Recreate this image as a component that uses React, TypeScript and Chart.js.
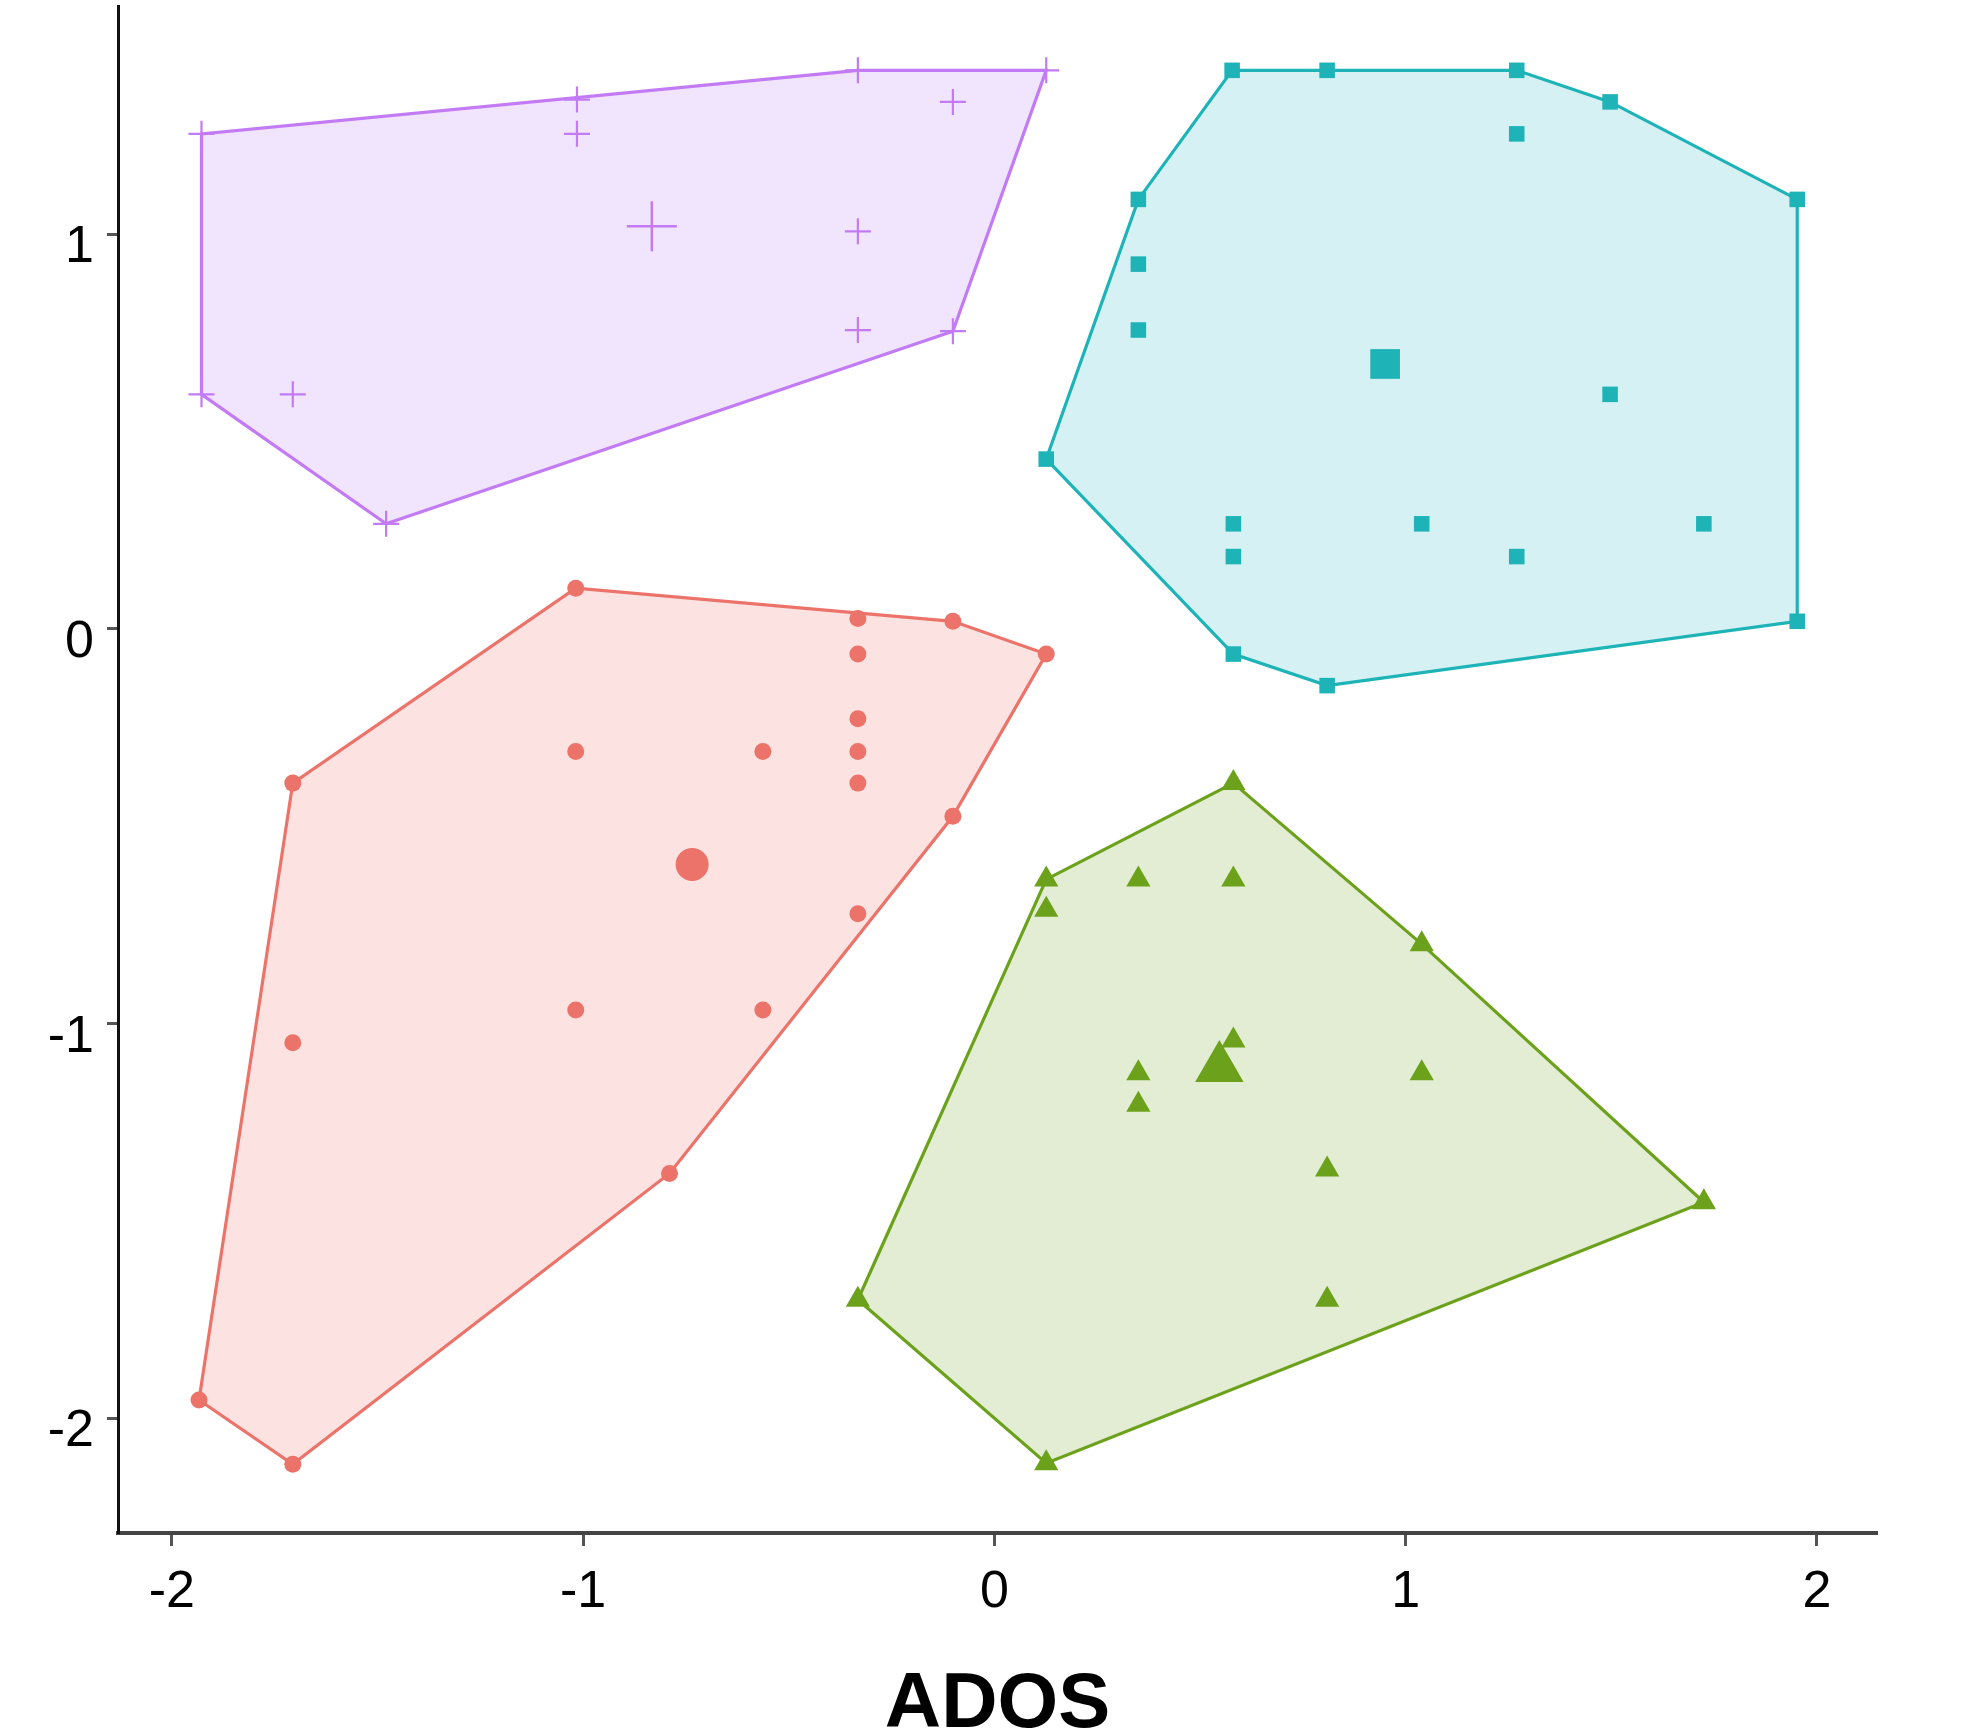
import React, { useEffect, useRef } from 'react';
import { Chart, registerables } from 'chart.js';

Chart.register(...registerables);

const xTicks = [-2, -1, 0, 1, 2];
const yTicks = [-2, -1, 0, 1];
const xTitle = 'ADOS';

const purplePoints: [number, number][] = [
  [-1.928, 1.254], [-1.015, 1.341], [-1.015, 1.254], [-0.332, 1.415], [0.126, 1.415],
  [-0.101, 1.335], [-0.332, 1.007], [-0.332, 0.757], [-0.101, 0.754], [-1.928, 0.594],
  [-1.706, 0.594], [-1.479, 0.266],
];
const purpleCenter: [number, number] = [-0.833, 1.02];

const cyanPoints: [number, number][] = [
  [0.578, 1.415], [0.809, 1.415], [1.27, 1.415], [1.497, 1.335], [1.952, 1.088],
  [1.952, 0.019], [0.809, -0.144], [0.581, -0.064], [0.126, 0.43], [0.35, 1.088],
  [1.27, 1.254], [0.35, 0.924], [0.35, 0.757], [1.497, 0.594], [0.581, 0.266],
  [0.581, 0.183], [1.039, 0.266], [1.27, 0.183], [1.725, 0.266],
];
const cyanCenter: [number, number] = [0.95, 0.671];

const redPoints: [number, number][] = [
  [-1.018, 0.103], [-0.332, 0.026], [-0.101, 0.019], [0.126, -0.064], [-0.101, -0.475],
  [-0.79, -1.38], [-1.706, -2.117], [-1.934, -1.954], [-1.706, -0.391], [-0.332, -0.064],
  [-0.332, -0.228], [-0.332, -0.311], [-0.332, -0.391], [-1.018, -0.311], [-0.563, -0.311],
  [-0.332, -0.722], [-1.706, -1.049], [-1.018, -0.966], [-0.563, -0.966],
];
const redCenter: [number, number] = [-0.735, -0.597];

const greenPoints: [number, number][] = [
  [0.581, -0.391], [1.039, -0.799], [1.725, -1.453], [0.126, -2.114], [-0.332, -1.7],
  [0.126, -0.635], [0.126, -0.712], [0.35, -0.635], [0.581, -0.635], [0.581, -1.043],
  [0.35, -1.126], [1.039, -1.126], [0.35, -1.206], [0.809, -1.37], [0.809, -1.7],
];
const greenCenter: [number, number] = [0.547, -1.113];

function convexHull(pts: [number, number][]): [number, number][] {
  const p = [...pts].sort((a, b) => a[0] - b[0] || a[1] - b[1]);
  const cross = (o: number[], a: number[], b: number[]) =>
    (a[0] - o[0]) * (b[1] - o[1]) - (a[1] - o[1]) * (b[0] - o[0]);
  const lower: [number, number][] = [];
  for (const q of p) {
    while (lower.length >= 2 && cross(lower[lower.length - 2], lower[lower.length - 1], q) <= 0) lower.pop();
    lower.push(q);
  }
  const upper: [number, number][] = [];
  for (let i = p.length - 1; i >= 0; i--) {
    const q = p[i];
    while (upper.length >= 2 && cross(upper[upper.length - 2], upper[upper.length - 1], q) <= 0) upper.pop();
    upper.push(q);
  }
  lower.pop();
  upper.pop();
  const h = lower.concat(upper);
  return [...h, h[0]];
}

const FONT = "'Liberation Sans', Arial, sans-serif";

export default function App() {
  const ref = useRef<HTMLCanvasElement>(null);

  useEffect(() => {
    if (!ref.current) return;
    const groups = [
      { points: purplePoints, center: purpleCenter, style: 'cross', line: '#C27AF5', fill: '#F1E5FD', r: 13, R: 25 },
      { points: cyanPoints, center: cyanCenter, style: 'rect', line: '#1DB3B7', fill: '#D6F1F3', r: 11, R: 21 },
      { points: redPoints, center: redCenter, style: 'circle', line: '#EB736A', fill: '#FCE3E1', r: 8.5, R: 16.5 },
      { points: greenPoints, center: greenCenter, style: 'triangle', line: '#6CA21B', fill: '#E3EDD4', r: 14, R: 28 },
    ];
    const datasets: any[] = [];
    for (const g of groups) {
      const isCross = g.style === 'cross';
      datasets.push({
        type: 'scatter',
        data: g.points.map(([x, y]) => ({ x, y })),
        pointStyle: g.style,
        pointRadius: g.r,
        backgroundColor: g.line,
        borderColor: g.line,
        borderWidth: isCross ? 2.2 : 0,
        order: 1,
      });
      datasets.push({
        type: 'scatter',
        data: [{ x: g.center[0], y: g.center[1] }],
        pointStyle: g.style,
        pointRadius: g.R,
        backgroundColor: g.line,
        borderColor: g.line,
        borderWidth: isCross ? 2.5 : 0,
        order: 1,
      });
      datasets.push({
        type: 'line',
        data: convexHull(g.points).map(([x, y]) => ({ x, y })),
        borderColor: g.line,
        backgroundColor: g.fill,
        borderWidth: 3.2,
        pointRadius: 0,
        tension: 0,
        fill: 'shape',
        order: 3,
      });
    }

    const chart = new Chart(ref.current, {
      type: 'scatter',
      data: { datasets },
      options: {
        animation: false,
        responsive: true,
        maintainAspectRatio: false,
        layout: { autoPadding: false, padding: { top: 6, right: 105, left: 0, bottom: 0 } },
        plugins: { legend: { display: false }, tooltip: { enabled: false } },
        scales: {
          x: {
            type: 'linear',
            min: -2.131,
            max: 2.146,
            afterBuildTicks: (s: any) => { s.ticks = xTicks.map((v) => ({ value: v })); },
            afterFit: (s: any) => { s.height = 196; s.paddingLeft = 0; s.paddingRight = 0; },
            grid: { display: true, drawOnChartArea: false, drawTicks: true, tickLength: 13, tickWidth: 3, tickColor: '#555' },
            border: { display: true, color: '#444', width: 4 },
            ticks: {
              color: '#000',
              font: { family: FONT, size: 52 },
              padding: 15,
              maxRotation: 0,
              autoSkip: false,
              callback: (v: any) => String(v),
            },
            title: {
              display: true,
              text: xTitle,
              color: '#000',
              font: { family: FONT, size: 78, weight: 'bold', lineHeight: 0.6 },
              padding: { top: 0, bottom: 0 },
            },
          },
          y: {
            type: 'linear',
            min: -2.291,
            max: 1.578,
            afterBuildTicks: (s: any) => { s.ticks = yTicks.map((v) => ({ value: v })); },
            afterFit: (s: any) => { s.width = 118; s.paddingTop = 0; s.paddingBottom = 0; },
            grid: { display: true, drawOnChartArea: false, drawTicks: true, tickLength: 11, tickWidth: 3, tickColor: '#555' },
            border: { display: true, color: '#111', width: 3 },
            ticks: {
              color: '#000',
              font: { family: FONT, size: 52 },
              padding: 13,
              labelOffset: 14,
              autoSkip: false,
              callback: (v: any) => String(v),
            },
          },
        },
      } as any,
    });
    return () => chart.destroy();
  }, []);

  return (
    <div style={{ position: 'absolute', left: 0, top: 0, width: 1982, height: 1729, background: '#fff' }}>
      <canvas ref={ref} />
    </div>
  );
}
